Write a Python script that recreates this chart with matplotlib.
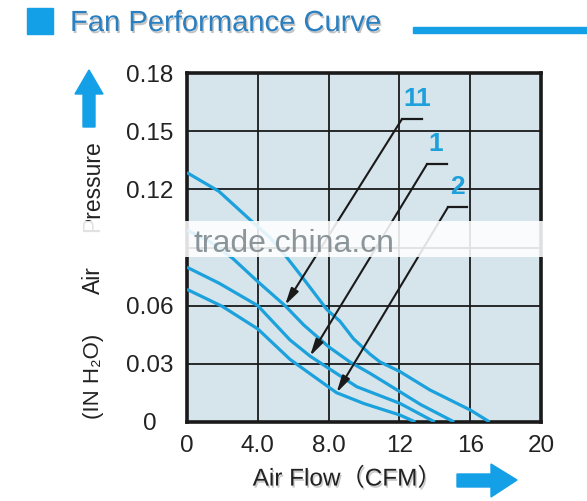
import numpy as np
import matplotlib
matplotlib.use("Agg")
import matplotlib.pyplot as plt
from matplotlib.patches import Rectangle, Polygon
import matplotlib.patheffects as pe

plt.rcParams['font.family'] = ['Liberation Sans', 'DejaVu Sans', 'Noto Sans CJK SC']

# curves (air flow CFM, pressure IN H2O)
top_x = [0, 1.8, 3.6, 4.7, 5.63, 6.57, 7.9, 8.64, 9.4, 10.34, 10.9, 12.03, 13.73, 16.0, 17.1]
top_y = [0.1286, 0.119, 0.104, 0.095, 0.085, 0.074, 0.058, 0.052, 0.043, 0.035, 0.031, 0.026, 0.0165, 0.0062, 0]

c11_x = [0, 1.3, 2.58, 4.0, 5.54, 6.6, 8.0, 9.2, 10.34, 12.03, 13.2, 15.1]
c11_y = [0.099, 0.093, 0.0844, 0.0724, 0.060, 0.050, 0.0388, 0.031, 0.0251, 0.0156, 0.009, 0]

c1_x = [0, 1.83, 4.0, 5.82, 6.95, 8.0, 9.59, 12.03, 14.0]
c1_y = [0.0798, 0.0715, 0.060, 0.0423, 0.034, 0.0277, 0.0182, 0.0096, 0]

c2_x = [0, 2.0, 4.0, 5.82, 8.45, 10.0, 12.03, 12.9]
c2_y = [0.0684, 0.0596, 0.048, 0.0323, 0.0151, 0.0095, 0.0036, 0]

xticks = [0, 4, 8, 12, 16, 20]
xtick_labels = ['0', '4.0', '8.0', '12', '16', '20']
yticks = [0, 0.03, 0.06, 0.09, 0.12, 0.15, 0.18]
ytick_labels = ['0', '0.03', '0.06', '', '0.12', '0.15', '0.18']

W, H = 587, 501
def fx(px):
    return px / W
def fy(py):
    return 1 - py / H

line_blue = '#1ba1dc'
bright_blue = '#14a0e6'

fig = plt.figure(figsize=(W / 100, H / 100), dpi=100)
ax = fig.add_axes([fx(187), fy(422), fx(541) - fx(187), fy(73) - fy(422)])
ax.set_facecolor('#d6e4eb')

for xs, ys in [(top_x, top_y), (c11_x, c11_y), (c1_x, c1_y), (c2_x, c2_y)]:
    ax.plot(xs, ys, color=line_blue, lw=2.3, solid_capstyle='butt', zorder=3)

ax.set_xlim(0, 20)
ax.set_ylim(0, 0.18)
ax.set_xticks(xticks)
ax.set_xticklabels(xtick_labels, fontsize=17.5)
ax.set_yticks(yticks)
ax.set_yticklabels(ytick_labels, fontsize=17.5)
for lab in ax.get_yticklabels():
    lab.set_horizontalalignment('center')
ax.tick_params(axis='x', length=0, pad=9, colors='#222222')
ax.tick_params(axis='y', length=0, pad=27, colors='#222222')
ax.grid(True, color='#1a1a1a', lw=1.3)
ax.set_axisbelow(True)
for s in ax.spines.values():
    s.set_linewidth(2.6)
    s.set_color('#1a1a1a')

# leader arrows with labels
callouts = [('11', (5.54, 0.0603), (12.15, 0.1563), 13.28),
            ('1', (6.95, 0.034), (13.56, 0.133), 14.69),
            ('2', (8.45, 0.0151), (14.75, 0.1109), 15.8)]
for txt, tip, start, hend in callouts:
    ax.plot([start[0], hend], [start[1], start[1]], color='#1a1a1a', lw=1.6, zorder=4)
    ax.annotate('', xy=tip, xytext=start,
                arrowprops=dict(arrowstyle='-|>,head_length=1.0,head_width=0.25',
                                color='#1a1a1a', lw=1.5, shrinkA=0, shrinkB=0), zorder=4)
    ax.text(start[0] + 0.1, start[1] + 0.004, txt, color='#1ea0dc', fontsize=19,
            fontweight='bold', ha='left', va='bottom', zorder=5)

# title block
fig.add_artist(Rectangle((fx(27), fy(34)), fx(53) - fx(27), fy(8) - fy(34),
                         transform=fig.transFigure, color=bright_blue))
fig.text(fx(70), fy(31), 'Fan Performance Curve', fontsize=21, color='#2a7fc0',
         ha='left', va='baseline',
         path_effects=[pe.withSimplePatchShadow(offset=(1, -1.5), shadow_rgbFace='#555555', alpha=0.35)])
fig.add_artist(Rectangle((fx(413), fy(33)), fx(587) - fx(413), fy(27) - fy(33),
                         transform=fig.transFigure, color=bright_blue))

# y label pieces
fig.text(fx(93), fy(376), '(IN H\u2082O)', fontsize=16, rotation=90, ha='center', va='center', color='#222222')
fig.text(fx(93), fy(280), 'Air', fontsize=16.5, rotation=90, ha='center', va='center', color='#222222')
fig.text(fx(93), fy(140), 'Pressure', fontsize=16.5, rotation=90, ha='center', va='top', color='#222222')
fig.add_artist(Polygon([(fx(89), fy(70)), (fx(103), fy(94)), (fx(95), fy(94)), (fx(95), fy(127)),
                        (fx(83), fy(127)), (fx(83), fy(94)), (fx(75), fy(94))],
                       closed=True, transform=fig.transFigure, color=bright_blue))

# x label
fig.text(fx(347), fy(479), 'Air Flow\uff08CFM\uff09', fontsize=17.5, ha='center', va='center', color='#222222',
         path_effects=[pe.withSimplePatchShadow(offset=(1, -1.5), shadow_rgbFace='#555555', alpha=0.3)])
fig.add_artist(Polygon([(fx(457), fy(474)), (fx(491), fy(474)), (fx(491), fy(464)), (fx(517), fy(480)),
                        (fx(491), fy(497)), (fx(491), fy(487)), (fx(457), fy(487))],
                       closed=True, transform=fig.transFigure, color=bright_blue))

# watermark band
fig.add_artist(Rectangle((fx(70), fy(257)), fx(550) - fx(70), fy(221) - fy(257),
                         transform=fig.transFigure, facecolor='white', edgecolor='none',
                         alpha=0.87, zorder=10))
fig.text(fx(193), fy(252), 'trade.china.cn', fontsize=23, color='#7f8a90', alpha=0.9,
         ha='left', va='baseline', zorder=11)

fig.savefig('out.png', dpi=100)
